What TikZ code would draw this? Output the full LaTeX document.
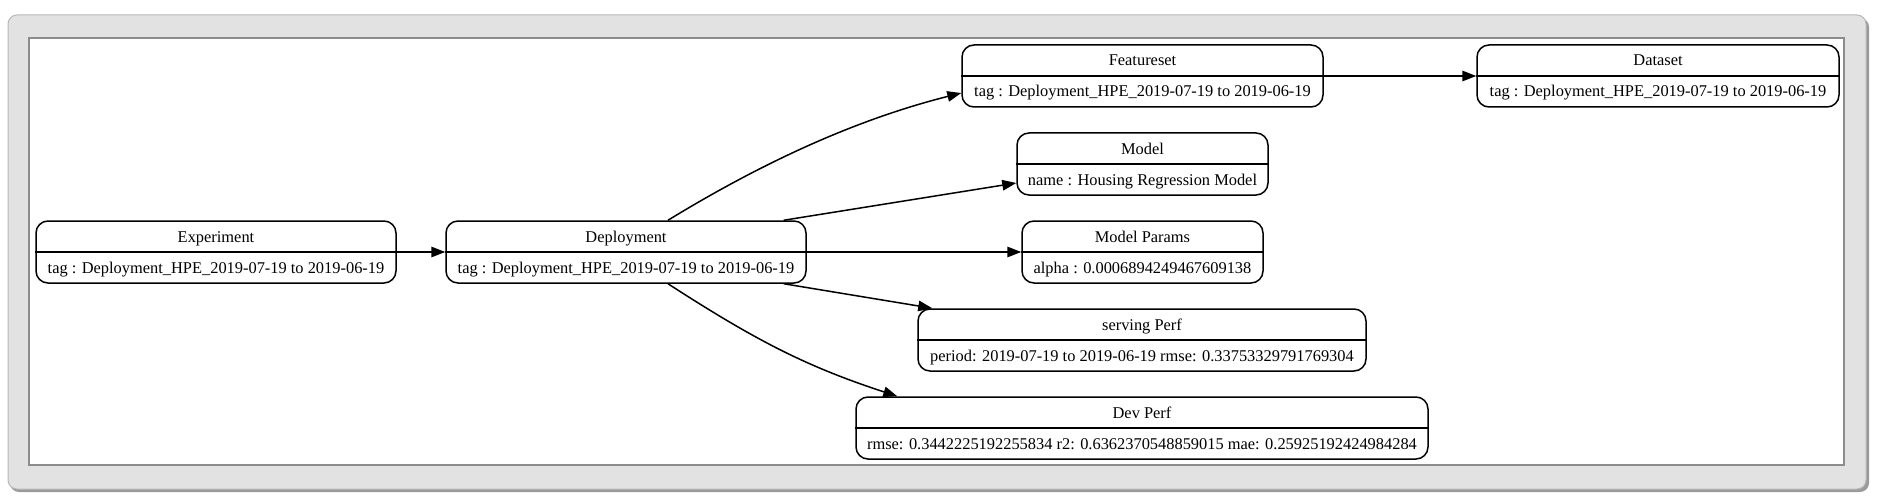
\documentclass[tikz,border=0pt]{standalone}
\usepackage{fontspec}
\setmainfont{Liberation Serif}
\usetikzlibrary{arrows.meta,calc}
\definecolor{framefill}{HTML}{E2E2E2}
\definecolor{framedraw}{HTML}{B8B8B8}
\definecolor{shadowc}{HTML}{9A9A9A}
\definecolor{innerdraw}{HTML}{8C8C8C}
\tikzset{
 box/.style={draw, rounded corners=12pt, line width=1.5pt, inner sep=0pt, fill=white, minimum height=62pt},
 divider/.style={line width=1.5pt},
 txt/.style={anchor=base, inner sep=0pt, font=\fontsize{16.4}{19}\selectfont},
 edge/.style={line width=1.5pt, -{Triangle[length=14pt,width=10.5pt]}},
}
\newcommand\recnode[6]{%
 \node[box, minimum width=#4pt] (#1) at (#2,#3) {};
 \draw[divider] (#1.west) -- (#1.east);
 \node[txt] (#1-t) at ([yshift=10pt]#1.center) {#5};
 \node[txt] (#1-b) at ([yshift=-21pt]#1.center) {#6};
}
\begin{document}
\begin{tikzpicture}[x=1pt,y=-1pt]
\useasboundingbox (0,0) rectangle (1882,500);
\fill[shadowc, rounded corners=9pt] (10,18) rectangle (1869,492);
\filldraw[fill=framefill, draw=framedraw, line width=1pt, rounded corners=9pt] (8,15) rectangle (1866,489);
\filldraw[fill=white, draw=innerdraw, line width=1.2pt] (29,38) rectangle (1844,465);

\recnode{exp}{216}{252}{360}{Experiment}{tag : Deployment\_HPE\_2019-07-19 to 2019-06-19}
\recnode{dep}{626}{252}{360}{Deployment}{tag : Deployment\_HPE\_2019-07-19 to 2019-06-19}
\recnode{feat}{1142.5}{76}{361}{Featureset}{tag : Deployment\_HPE\_2019-07-19 to 2019-06-19}
\recnode{data}{1658}{76}{362}{Dataset}{tag : Deployment\_HPE\_2019-07-19 to 2019-06-19}
\recnode{model}{1142.5}{164}{251}{Model}{name : Housing Regression Model}
\recnode{params}{1142.5}{252}{241}{Model Params}{alpha : 0.0006894249467609138}
\recnode{serv}{1142}{340}{448}{serving Perf}{period: 2019-07-19 to 2019-06-19 rmse: 0.33753329791769304}
\recnode{dev}{1142}{428}{572}{Dev Perf}{rmse: 0.3442225192255834 r2: 0.6362370548859015 mae: 0.25925192424984284}

\draw[edge] (exp.east) -- (dep.west);
\draw[edge] (dep.east) -- (params.west);
\draw[edge] (feat.east) -- (data.west);
\draw[edge] ([xshift=-23pt]dep.north east) -- ([yshift=-19pt]model.west);
\draw[edge] ([xshift=-23pt]dep.south east) -- ([xshift=15pt]serv.north west);
\draw[edge] ([xshift=42pt]dep.north) .. controls (778,153) and (870,116) .. ([yshift=-17pt]feat.west);
\draw[edge] ([xshift=42pt]dep.south) .. controls (758,342) and (808,367) .. ([xshift=42pt]dev.north west);
\end{tikzpicture}
\end{document}
